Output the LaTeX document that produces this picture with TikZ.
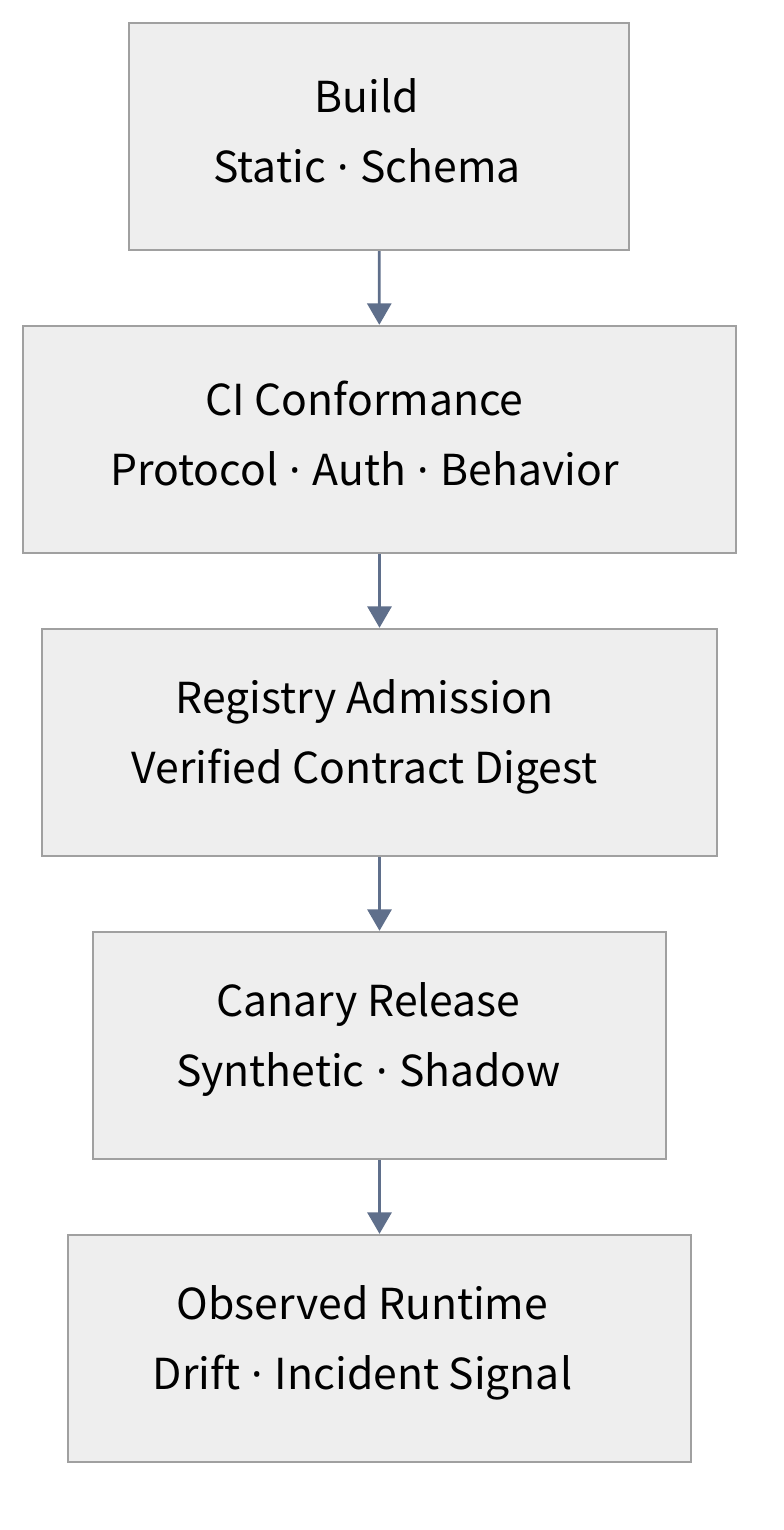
\documentclass[tikz,border=0pt]{standalone}
\usepackage{fontspec}
\setmainfont{Noto Sans CJK KR}
\newfontfamily\dotfont{Noto Sans}
\newcommand{\md}{\hspace{1.5pt}{\dotfont\char"00B7}\hspace{1.5pt}}
\usetikzlibrary{arrows.meta}
\definecolor{boxfill}{HTML}{EEEEEE}
\definecolor{boxline}{HTML}{A0A0A0}
\definecolor{arrowcol}{HTML}{5F6F8B}
\tikzset{
  stage/.style={draw=boxline, fill=boxfill, line width=1.8pt, rectangle,
    minimum height=170.25pt, inner sep=0pt},
  stagetext/.style={align=center, inner sep=0pt,
    font=\fontsize{32}{52.5}\selectfont},
  flow/.style={draw=arrowcol, line width=2pt, -{Triangle[length=16pt,width=18pt]}}
}
\begin{document}
\begin{tikzpicture}[x=0.75pt,y=-0.75pt]
\useasboundingbox (0,0) rectangle (783,1530);
\node[stage, minimum width=375pt] (b) at (379,136.5) {};
\node[stage, minimum width=534.75pt] (ci) at (379.5,439.5) {};
\node[stage, minimum width=506.25pt] (reg) at (379.5,742.5) {};
\node[stage, minimum width=429.75pt] (can) at (379.5,1045.5) {};
\node[stage, minimum width=467.25pt] (obs) at (379.5,1348.5) {};
\node[stagetext] (bt) at ([shift={(-12,-6)}]b.center) {Build\\Static \md{} Schema};
\node[stagetext] (cit) at ([shift={(-15,-6)}]ci.center) {CI Conformance\\Protocol \md{} Auth \md{} Behavior};
\node[stagetext] (regt) at ([shift={(-15,-6)}]reg.center) {Registry Admission\\Verified Contract Digest};
\node[stagetext] (cant) at ([shift={(-11,-6)}]can.center) {Canary Release\\Synthetic \md{} Shadow};
\node[stagetext] (obst) at ([shift={(-17,-6)}]obs.center) {Observed Runtime\\Drift \md{} Incident Signal};
\draw[flow] (b) -- (ci);
\draw[flow] (ci) -- (reg);
\draw[flow] (reg) -- (can);
\draw[flow] (can) -- (obs);
\end{tikzpicture}
\end{document}
